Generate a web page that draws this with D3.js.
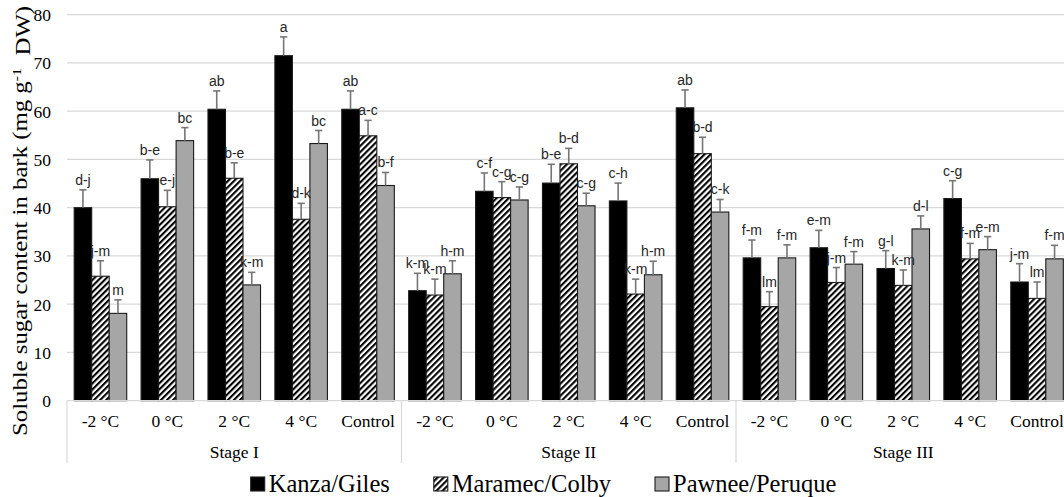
<!DOCTYPE html>
<html>
<head>
<meta charset="utf-8">
<script src="https://cdn.jsdelivr.net/npm/d3@7"></script>
<style>
  html, body { margin: 0; padding: 0; background: #fff; }
  svg { display: block; overflow: hidden; }
</style>
</head>
<body>
<svg id="chart" width="1064" height="497"></svg>
<script>
// ---------- data ----------
const stages = ["Stage I", "Stage II", "Stage III"];
const treatments = ["-2 °C", "0 °C", "2 °C", "4 °C", "Control"];
const seriesNames = ["Kanza/Giles", "Maramec/Colby", "Pawnee/Peruque"];
const yTicks = [0, 10, 20, 30, 40, 50, 60, 70, 80];

const kanzaValues   = [40.0, 46.0, 60.4, 71.5, 60.4,  22.8, 43.4, 45.1, 41.4, 60.7,  29.6, 31.7, 27.4, 41.9, 24.6];
const kanzaErrors   = [3.7, 3.9, 3.8, 3.9, 3.8,  3.6, 3.8, 3.9, 3.7, 3.7,  3.7, 3.6, 3.7, 3.7, 3.8];
const kanzaLetters  = ["d-j", "b-e", "ab", "a", "ab",  "k-m", "c-f", "b-e", "c-h", "ab",  "f-m", "e-m", "g-l", "c-g", "j-m"];

const maramecValues  = [25.8, 40.2, 46.1, 37.6, 54.9,  21.9, 42.1, 49.1, 22.1, 51.2,  19.5, 24.5, 23.9, 29.4, 21.2];
const maramecErrors  = [3.2, 3.4, 3.2, 3.3, 3.2,  3.3, 3.3, 3.2, 3.1, 3.4,  3.1, 3.1, 3.2, 3.2, 3.4];
const maramecLetters = ["j-m", "e-j", "b-e", "d-k", "a-c",  "k-m", "c-g", "b-d", "k-m", "b-d",  "lm", "j-m", "k-m", "f-m", "lm"];

const pawneeValues  = [18.1, 53.9, 24.0, 53.3, 44.6,  26.3, 41.6, 40.4, 26.1, 39.1,  29.6, 28.3, 35.6, 31.3, 29.4];
const pawneeErrors  = [2.8, 2.7, 2.6, 2.7, 2.7,  2.7, 2.7, 2.6, 2.8, 2.6,  2.7, 2.6, 2.7, 2.7, 2.8];
const pawneeLetters = ["m", "bc", "k-m", "bc", "b-f",  "h-m", "c-g", "c-g", "h-m", "c-k",  "f-m", "f-m", "d-l", "e-m", "f-m"];

// ---------- build table ----------
const catKeys = [];
stages.forEach(s => treatments.forEach(t => catKeys.push(s + "|" + t)));
const seriesData = [
  { name: seriesNames[0], values: kanzaValues, errors: kanzaErrors, letters: kanzaLetters, fill: "#000000" },
  { name: seriesNames[1], values: maramecValues, errors: maramecErrors, letters: maramecLetters, fill: "url(#hatch)" },
  { name: seriesNames[2], values: pawneeValues, errors: pawneeErrors, letters: pawneeLetters, fill: "#a6a6a6" }
];

// ---------- layout ----------
const svg = d3.select("#chart");
const plotLeft = 67, plotRight = 1070.5, plotTop = 14.7, plotBottom = 400.7;

const defs = svg.append("defs");
const pat = defs.append("pattern")
  .attr("id", "hatch")
  .attr("patternUnits", "userSpaceOnUse")
  .attr("width", 4.3).attr("height", 4.3)
  .attr("patternTransform", "rotate(45)");
pat.append("rect").attr("width", 4.3).attr("height", 4.3).attr("fill", "#fff");
pat.append("rect").attr("width", 2.1).attr("height", 4.3).attr("fill", "#000");

const x0 = d3.scaleBand().domain(catKeys).range([plotLeft, plotRight]).padding(0);
const x1 = d3.scaleBand().domain(seriesNames).range([0, x0.bandwidth()]).paddingInner(0).paddingOuter(0.41);
const y = d3.scaleLinear().domain([0, 80]).range([plotBottom, plotTop]);

// gridlines
svg.append("g").selectAll("line").data(yTicks.filter(d => d > 0)).join("line")
  .attr("x1", plotLeft).attr("x2", plotRight)
  .attr("y1", d => y(d)).attr("y2", d => y(d))
  .attr("stroke", "#d9d9d9").attr("stroke-width", 1.2);

// y axis labels
const yAxis = d3.axisLeft(y).tickValues(yTicks).tickSize(0).tickPadding(0);
const yg = svg.append("g").attr("transform", `translate(${plotLeft - 16},0)`).call(yAxis);
yg.select(".domain").remove();
yg.selectAll("text")
  .attr("font-family", "'Liberation Serif', 'Times New Roman', serif")
  .attr("font-size", 17.5).attr("fill", "#000").attr("dy", "0.34em");

// bars
const barsG = svg.append("g");
seriesData.forEach(s => {
  const g = barsG.append("g");
  g.selectAll("rect").data(catKeys).join("rect")
    .attr("x", (k) => x0(k) + x1(s.name))
    .attr("y", (k, i) => y(s.values[i]))
    .attr("width", x1.bandwidth())
    .attr("height", (k, i) => y(0) - y(s.values[i]))
    .attr("fill", s.fill)
    .attr("stroke", "#1a1a1a").attr("stroke-width", 1.1);
});

// error bars
seriesData.forEach(s => {
  const g = barsG.append("g").attr("stroke", "#767676").attr("stroke-width", 1.6).attr("fill", "none");
  catKeys.forEach((k, i) => {
    const cx = x0(k) + x1(s.name) + x1.bandwidth() / 2;
    const top = y(s.values[i] + s.errors[i]);
    g.append("line").attr("x1", cx).attr("x2", cx).attr("y1", y(s.values[i])).attr("y2", top);
    g.append("line").attr("x1", cx - 3.6).attr("x2", cx + 3.6).attr("y1", top).attr("y2", top);
  });
});

// letters
seriesData.forEach(s => {
  barsG.append("g").selectAll("text").data(catKeys).join("text")
    .attr("x", k => x0(k) + x1(s.name) + x1.bandwidth() / 2)
    .attr("y", (k, i) => y(s.values[i] + s.errors[i]) - 5)
    .attr("text-anchor", "middle")
    .attr("font-family", "'Liberation Sans', Arial, sans-serif")
    .attr("font-size", 14).attr("fill", "#262626")
    .text((k, i) => s.letters[i]);
});

// x axis line
svg.append("line").attr("x1", plotLeft).attr("x2", plotRight)
  .attr("y1", plotBottom).attr("y2", plotBottom)
  .attr("stroke", "#d9d9d9").attr("stroke-width", 1.2);

// category labels
const xAxis = d3.axisBottom(x0).tickSize(0).tickPadding(0).tickFormat(k => k.split("|")[1]);
const xg = svg.append("g").attr("transform", `translate(0,${plotBottom})`).call(xAxis);
xg.select(".domain").remove();
xg.selectAll("text")
  .attr("font-family", "'Liberation Serif', 'Times New Roman', serif")
  .attr("font-size", 17.5).attr("fill", "#000").attr("dy", null).attr("y", 26);

// stage separators & labels
const stageScale = d3.scaleBand().domain(stages).range([plotLeft, plotRight]).padding(0);
const sepX = stages.map(s => stageScale(s)).concat([plotRight]);
svg.append("g").selectAll("line").data(sepX).join("line")
  .attr("x1", d => d).attr("x2", d => d)
  .attr("y1", plotBottom).attr("y2", 463)
  .attr("stroke", "#d9d9d9").attr("stroke-width", 1.2);
svg.append("g").selectAll("text").data(stages).join("text")
  .attr("x", d => stageScale(d) + stageScale.bandwidth() / 2)
  .attr("y", 458)
  .attr("text-anchor", "middle")
  .attr("font-family", "'Liberation Serif', 'Times New Roman', serif")
  .attr("font-size", 17.5).attr("fill", "#000")
  .text(d => d);

// y title
const yt = svg.append("text")
  .attr("transform", "translate(27,221) rotate(-90)")
  .attr("text-anchor", "middle")
  .attr("textLength", 430).attr("lengthAdjust", "spacingAndGlyphs")
  .attr("font-family", "'Liberation Serif', 'Times New Roman', serif")
  .attr("font-size", 20.5).attr("fill", "#000");
yt.append("tspan").text("Soluble sugar content in bark (mg g");
yt.append("tspan").attr("dy", "-0.45em").attr("font-size", 13.5).text("-1");
yt.append("tspan").attr("dy", "0.45em").text("\u00a0 DW)");

// legend
const legend = svg.append("g");
const legendItems = [];
seriesData.forEach((s, i) => {
  const g = legend.append("g");
  g.append("rect").attr("x", 0).attr("y", -15).attr("width", 14).attr("height", 14)
    .attr("fill", s.fill).attr("stroke", "#1a1a1a").attr("stroke-width", 1.1);
  const t = g.append("text").attr("x", 18).attr("y", 0)
    .attr("font-family", "'Liberation Serif', 'Times New Roman', serif")
    .attr("font-size", 24.5).attr("fill", "#000").text(s.name);
  legendItems.push({ g, w: 18 + t.node().getComputedTextLength() });
});
const gap = 44;
const totalW = d3.sum(legendItems, d => d.w) + gap * (legendItems.length - 1);
let lx = 543.5 - totalW / 2;
legendItems.forEach(it => {
  it.g.attr("transform", `translate(${lx},492)`);
  lx += it.w + gap;
});
</script>
</body>
</html>
